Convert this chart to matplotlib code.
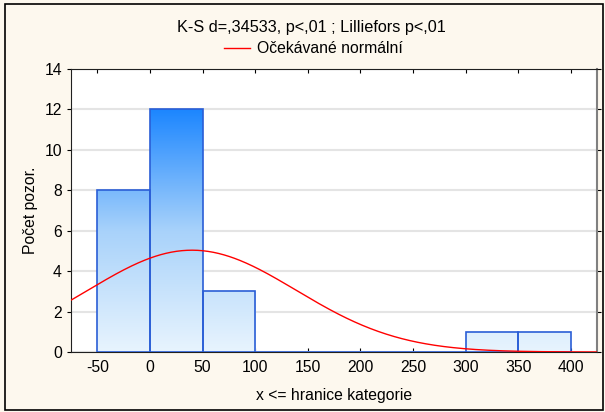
import numpy as np
import matplotlib.pyplot as plt
from matplotlib.colors import LinearSegmentedColormap
from matplotlib.patches import Rectangle

plt.rcParams['font.family'] = ['Liberation Sans', 'DejaVu Sans']
plt.rcParams['font.size'] = 11.3
plt.rcParams['axes.unicode_minus'] = False

# histogram data
bin_edges = [-50, 0, 50, 100, 150, 200, 250, 300, 350, 400]
counts = [8, 12, 3, 0, 0, 0, 0, 1, 1]
n_obs = 25
mean_x = 40.0
sd_x = 99.0

title = "K-S d=,34533, p<,01 ; Lilliefors p<,01"
legend_label = "Očekávané normální"
x_label = "x <= hranice kategorie"
y_label = "Počet pozor."

bg = '#fdf8ee'
fig = plt.figure(figsize=(6.05, 4.12), dpi=100, facecolor=bg)
fig.patches.append(Rectangle((0.009, 0.005), 0.987, 0.985, transform=fig.transFigure,
                             fill=False, edgecolor='black', linewidth=1.2))
ax = fig.add_axes([0.1174, 0.1456, 0.8694, 0.6869])
ax.set_facecolor('white')

ax.set_xlim(-75, 425)
ax.set_ylim(0, 14)
ax.set_xticks(np.arange(-50, 401, 50))
ax.set_yticks(np.arange(0, 15, 2))
ax.yaxis.grid(True, color='#e4e4e4', linewidth=1.5)
ax.set_axisbelow(True)

cmap = LinearSegmentedColormap.from_list('grad', ['#e8f4fe', '#a8d2fa', '#1c86ff'], N=256)
grad = np.linspace(0, 1, 256).reshape(-1, 1)

widths = np.diff(bin_edges)
bars = ax.bar(bin_edges[:-1], counts, width=widths, align='edge',
              facecolor='none', edgecolor='#2a5ed6', linewidth=1.2, zorder=3)
for b in bars:
    if b.get_height() > 0:
        im = ax.imshow(grad, cmap=cmap, aspect='auto', origin='lower',
                       extent=(-75, 425, 0, 12), zorder=2, vmin=0, vmax=1)
        im.set_clip_path(b)

xs = np.linspace(-75, 425, 400)
ys = n_obs * widths[0] * np.exp(-0.5 * ((xs - mean_x) / sd_x) ** 2) / (sd_x * np.sqrt(2 * np.pi))
ax.plot(xs, ys, color='#ff0000', linewidth=1, zorder=4)

ax.tick_params(axis='x', direction='in', top=True, length=3, pad=6)
ax.tick_params(axis='y', direction='out', length=3)
ax.tick_params(axis='y', which='both', right=True)
for s in ax.spines.values():
    s.set_color('#202020')
ax.spines['right'].set_color('#808080')
ax.spines['right'].set_linewidth(1.5)

ax.set_xlabel(x_label, labelpad=9)
ax.set_ylabel(y_label)
ax.yaxis.set_label_coords(-0.062, 0.5)

fig.text(0.514, 0.934, title, ha='center', va='center', fontsize=11.7)
fig.lines.append(plt.Line2D([0.370, 0.413], [0.883, 0.883], transform=fig.transFigure,
                            color='#ff0000', linewidth=1))
fig.text(0.425, 0.883, legend_label, ha='left', va='center')

fig.savefig('out.png', dpi=100, facecolor=bg)
